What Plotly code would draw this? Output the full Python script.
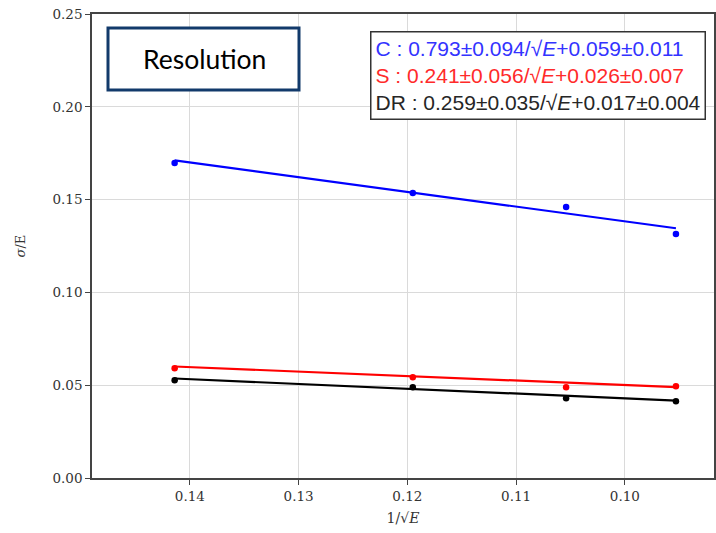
import plotly.graph_objects as go

# Data
inv_sqrt_E = [0.1414, 0.1195, 0.1054, 0.0953]
series_names = ["C", "S", "DR"]
res_C = [0.1697, 0.1536, 0.1460, 0.1315]
res_S = [0.0591, 0.0543, 0.0489, 0.0495]
res_DR = [0.0527, 0.0489, 0.0430, 0.0414]

# fit parameters: sigma/E = a/sqrt(E) + b
fit_a = [0.793, 0.241, 0.259]
fit_a_err = [0.094, 0.056, 0.035]
fit_b = [0.059, 0.026, 0.017]
fit_b_err = [0.011, 0.007, 0.004]

colors = ["#0000ff", "#ff0000", "#000000"]
legend_colors = ["#3333ff", "#ff2a2a", "#262626"]

y_ticks = [0.00, 0.05, 0.10, 0.15, 0.20, 0.25]
x_ticks = [0.14, 0.13, 0.12, 0.11, 0.10]

fig = go.Figure()
for name, ys, col, a, b in zip(series_names, [res_C, res_S, res_DR], colors, fit_a, fit_b):
    fig.add_trace(go.Scatter(x=inv_sqrt_E, y=ys, mode="markers",
                             marker=dict(color=col, size=6.5), name=name, showlegend=False))
    fit_y = [a * x + b for x in inv_sqrt_E]
    fig.add_trace(go.Scatter(x=inv_sqrt_E, y=fit_y, mode="lines",
                             line=dict(color=col, width=2.2), showlegend=False))

lines = []
for name, col, a, ae, b, be in zip(series_names, legend_colors, fit_a, fit_a_err, fit_b, fit_b_err):
    lines.append(f"<span style='color:{col}'>{name} : {a:.3f}±{ae:.3f}/√<i>E</i>+{b:.3f}±{be:.3f}</span>")
legend_text = "<br>".join(lines)

FW, FH = 716, 533
# plot area in page coordinates
L, R, T, B = 92, 714, 14, 478
W, H = R - L, B - T

def px(x):
    return (x - L) / W

def py(y):
    return (B - y) / H

fig.add_annotation(x=px(706), y=py(31), xref="paper", yref="paper", xanchor="right", yanchor="top",
                   text=legend_text, showarrow=False, align="left",
                   font=dict(family="Liberation Sans, Arial, sans-serif", size=21),
                   bordercolor="#333333", borderwidth=1.5, borderpad=4, bgcolor="white")

fig.add_shape(type="rect", xref="paper", yref="paper",
              x0=px(108), x1=px(299), y0=py(90), y1=py(28),
              line=dict(color="#123a6b", width=3), fillcolor="white", layer="above")
fig.add_annotation(x=px(204), y=py(59), xref="paper", yref="paper", xanchor="center", yanchor="middle",
                   text="Resolution", showarrow=False,
                   font=dict(family="Lato, Liberation Sans, Arial, sans-serif", size=26.5, color="black"))

serif = "DejaVu Serif, Liberation Serif, serif"
fig.update_xaxes(range=[0.1490, 0.0918], tickvals=x_ticks, ticktext=[f"{t:.2f}" for t in x_ticks],
                 showgrid=True, gridcolor="#dadada", gridwidth=1,
                 showline=True, linecolor="#444444", linewidth=1.5, mirror=True,
                 ticks="outside", ticklen=5, tickcolor="#444444",
                 tickfont=dict(family=serif, size=13.5, color="#333333"),
                 title=dict(text="1/√<i>E</i>", font=dict(family=serif, size=14, color="#333333"), standoff=10),
                 zeroline=False, automargin=False, ticklabeloverflow="allow")
fig.update_yaxes(range=[0.0, 0.25], tickvals=y_ticks, ticktext=[f"{t:.2f}" for t in y_ticks],
                 showgrid=True, gridcolor="#dadada", gridwidth=1,
                 showline=True, linecolor="#444444", linewidth=1.5, mirror=True,
                 ticks="outside", ticklen=5, tickcolor="#444444",
                 tickfont=dict(family=serif, size=13.5, color="#333333"),
                 title=dict(text="<i>σ</i>/E", font=dict(family=serif, size=13, color="#333333"), standoff=24),
                 zeroline=False, automargin=False, ticklabeloverflow="allow")

fig.update_layout(width=FW, height=FH,
                  margin=dict(l=L, r=FW - R, t=T, b=FH - B),
                  plot_bgcolor="white", paper_bgcolor="white", showlegend=False)

fig.write_html("out.html", config={"displayModeBar": False},
               post_script="document.body.style.margin='0';document.body.style.overflow='hidden';")
